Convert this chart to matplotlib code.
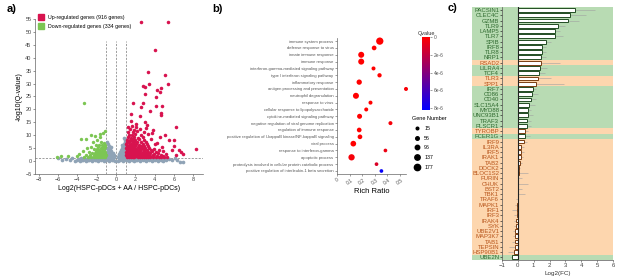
import matplotlib
matplotlib.use('Agg')
import matplotlib.pyplot as plt
from matplotlib.colors import LinearSegmentedColormap, Normalize
from matplotlib.lines import Line2D

plt.rcParams['font.family'] = ['Liberation Sans', 'DejaVu Sans']

# ---------------- a) volcano plot (points read off the picture)
up_pts = [
    (1.1, 1.5), (1.3, 1.7), (1.5, 1.4), (1.7, 1.6), (1.9, 1.5), (2.1, 1.8), (2.3, 1.4), (2.5, 1.6), (2.7, 1.5),
    (2.9, 1.7), (3.1, 1.4), (3.3, 1.6), (3.5, 1.5), (3.8, 1.7), (4.1, 1.4), (4.4, 1.6), (4.7, 1.5), (5.0, 1.7), (5.3, 1.5),
    (1.05, 2.2), (1.25, 2.0), (1.45, 2.3), (1.65, 2.1), (1.85, 2.4), (2.05, 2.0), (2.25, 2.2), (2.45, 2.3), (2.65, 2.1),
    (2.85, 2.3), (3.05, 2.0), (3.3, 2.3), (3.55, 2.1), (3.85, 2.4), (4.2, 2.1), (4.6, 2.3), (4.9, 2.0),
    (1.1, 2.9), (1.3, 2.7), (1.5, 3.0), (1.7, 2.8), (1.9, 3.1), (2.1, 2.8), (2.3, 2.9), (2.5, 3.1), (2.7, 2.7),
    (2.95, 3.0), (3.2, 2.8), (3.5, 3.1), (3.9, 2.8), (4.3, 3.0),
    (1.05, 3.6), (1.25, 3.4), (1.45, 3.7), (1.65, 3.5), (1.85, 3.8), (2.05, 3.4), (2.25, 3.6), (2.5, 3.8), (2.75, 3.5),
    (3.0, 3.7), (3.3, 3.4), (3.7, 3.8), (4.1, 3.5),
    (1.1, 4.3), (1.3, 4.1), (1.5, 4.4), (1.7, 4.2), (1.9, 4.5), (2.1, 4.1), (2.35, 4.3), (2.6, 4.5), (2.9, 4.2),
    (3.2, 4.4), (3.6, 4.1), (4.4, 4.3),
    (1.05, 5.0), (1.25, 4.8), (1.45, 5.2), (1.65, 4.9), (1.85, 5.1), (2.1, 4.8), (2.35, 5.0), (2.65, 5.2), (3.0, 4.9),
    (3.4, 5.1), (3.9, 4.8),
    (1.1, 5.8), (1.3, 5.6), (1.5, 5.9), (1.75, 5.7), (2.0, 6.0), (2.25, 5.6), (2.55, 5.8), (2.9, 6.0), (3.3, 5.7),
    (1.05, 6.6), (1.3, 6.4), (1.55, 6.8), (1.8, 6.5), (2.1, 6.7), (2.4, 6.4), (2.8, 6.6), (3.2, 6.8), (4.0, 6.5),
    (1.1, 7.4), (1.35, 7.2), (1.6, 7.6), (1.9, 7.3), (2.2, 7.5), (2.6, 7.2), (3.1, 7.5),
    (1.15, 8.3), (1.4, 8.1), (1.7, 8.5), (2.0, 8.2), (2.4, 8.4), (2.9, 8.1), (3.6, 8.4),
    (1.2, 9.2), (1.5, 9.0), (1.85, 9.4), (2.3, 9.1), (2.8, 9.3),
    (1.3, 10.2), (1.6, 10.0), (2.0, 10.4), (2.6, 10.1), (3.3, 10.3),
    (1.25, 11.3), (1.7, 11.1), (2.2, 11.5), (2.9, 11.2),
    (1.4, 12.4), (1.9, 12.2), (2.5, 12.6), (1.2, 13.2), (1.6, 13.4), (2.1, 13.0),
    # scattered outliers
    (2.6, 53.7), (5.4, 54.0), (4.0, 43.0), (3.35, 34.5), (5.07, 33.5), (2.77, 29.1), (3.0, 28.6), (3.4, 29.9),
    (5.4, 29.8), (4.2, 27.6), (4.6, 28.1), (4.5, 26.6), (3.0, 26.0), (4.1, 24.8), (1.8, 22.4), (2.8, 22.6),
    (2.6, 20.8), (4.8, 21.4), (4.1, 21.4), (4.7, 18.6), (4.6, 17.8), (3.5, 19.5), (1.5, 18.2), (2.5, 17.3),
    (1.56, 15.5), (2.1, 14.5), (3.0, 15.0), (3.15, 13.8), (3.05, 12.9), (6.2, 13.0), (3.8, 12.1), (5.07, 10.2),
    (5.45, 8.3), (6.0, 8.3), (8.3, 4.8), (5.8, 4.2), (6.7, 3.4), (6.9, 2.9), (6.2, 2.5), (6.0, 5.7), (6.5, 4.2),
    (4.5, 9.5), (4.2, 7.0), (4.8, 5.5), (3.7, 11.0), (4.9, 3.8), (5.2, 2.6),
]
down_pts = [
    (-2.3, 1.6), (-2.1, 1.5), (-1.9, 1.7), (-1.7, 1.5), (-1.5, 1.6), (-1.3, 1.5), (-1.1, 1.7), (-2.6, 1.5), (-2.9, 1.7), (-3.3, 1.5),
    (-2.25, 2.3), (-2.05, 2.1), (-1.85, 2.4), (-1.65, 2.2), (-1.45, 2.3), (-1.25, 2.1), (-1.05, 2.4), (-2.7, 2.2), (-3.1, 2.4),
    (-2.2, 3.0), (-2.0, 2.8), (-1.8, 3.1), (-1.6, 2.9), (-1.4, 3.0), (-1.2, 2.8), (-2.5, 3.1),
    (-2.1, 3.8), (-1.9, 3.6), (-1.7, 3.9), (-1.5, 3.7), (-1.3, 3.8), (-1.1, 3.6), (-2.8, 3.7), (-3.4, 3.8),
    (-2.0, 4.6), (-1.75, 4.4), (-1.5, 4.7), (-1.25, 4.5), (-2.3, 4.6),
    (-1.9, 5.4), (-1.6, 5.2), (-1.35, 5.5), (-1.1, 5.3), (-2.6, 5.4),
    (-1.8, 6.3), (-1.5, 6.1), (-1.2, 6.4), (-2.1, 6.2),
    (-1.6, 7.2), (-1.25, 7.0), (-2.4, 7.3),
    (-3.36, 22.4), (-3.1, 8.5), (-2.6, 10.2), (-1.7, 9.2), (-1.64, 10.5), (-1.2, 11.8), (-1.36, 10.9), (-2.0, 8.3),
    (-3.0, 5.1), (-3.8, 2.9), (-4.1, 2.1), (-5.0, 2.1), (-5.7, 1.8), (-6.1, 1.5), (-3.6, 8.6), (-2.2, 9.6),
]
ns_pts = [
    (-4.3, 0.2), (-4.0, 0.4), (-3.7, 0.2), (-3.4, 0.4), (-3.1, 0.2), (-2.8, 0.4), (-2.5, 0.2), (-2.2, 0.4), (-1.9, 0.2),
    (-1.6, 0.4), (-1.3, 0.2), (-1.0, 0.4), (-0.7, 0.2), (-0.4, 0.4), (-0.15, 0.2), (0.15, 0.2), (0.4, 0.4), (0.7, 0.2),
    (1.0, 0.4), (1.3, 0.2), (1.6, 0.4), (1.9, 0.2), (2.2, 0.4), (2.5, 0.2), (2.8, 0.4), (3.1, 0.2), (3.4, 0.4),
    (3.7, 0.2), (4.0, 0.4), (4.3, 0.2), (4.6, 0.4), (4.9, 0.2), (5.2, 0.4),
    (-3.85, 0.7), (-3.55, 0.6), (-3.25, 0.8), (-2.95, 0.6), (-2.65, 0.7), (-2.35, 0.8), (-2.05, 0.6), (-1.75, 0.7),
    (-1.45, 0.8), (-1.15, 0.6), (-0.85, 0.7), (-0.55, 0.8), (-0.3, 0.6), (0.3, 0.6), (0.55, 0.8), (0.85, 0.7),
    (1.15, 0.6), (1.45, 0.8), (1.75, 0.7), (2.05, 0.6), (2.35, 0.8), (2.65, 0.7), (2.95, 0.6), (3.25, 0.8),
    (3.55, 0.7), (3.85, 0.6), (4.15, 0.8), (4.45, 0.7), (4.75, 0.6), (5.05, 0.8),
    (-3.6, 1.0), (-3.3, 1.1), (-3.0, 0.95), (-2.7, 1.1), (-2.4, 1.0), (-2.1, 1.1), (-1.8, 0.95), (-1.5, 1.1),
    (-1.2, 1.0), (-0.9, 1.1), (-0.6, 1.0), (-0.35, 1.1), (0.35, 1.1), (0.6, 1.0), (0.9, 1.1), (1.2, 1.0),
    (1.5, 1.1), (1.8, 0.95), (2.1, 1.1), (2.4, 1.0), (2.7, 1.1), (3.0, 0.95), (3.3, 1.1), (3.6, 1.0),
    (3.9, 1.1), (4.2, 1.0), (4.5, 1.1), (4.8, 1.0),
    (-0.95, 1.8), (-0.9, 2.6), (-0.85, 3.4), (-0.8, 4.2), (-0.9, 5.0), (-0.75, 5.8), (-0.7, 1.7), (-0.65, 2.5),
    (-0.6, 3.3), (-0.55, 4.0), (-0.6, 4.8), (-0.45, 1.9), (-0.4, 2.7), (-0.35, 3.3), (-0.3, 1.8), (-0.25, 2.3),
    (-0.2, 1.5), (-0.8, 6.6), (-0.95, 7.3), (-0.5, 5.4),
    (0.2, 1.6), (0.25, 2.2), (0.3, 2.9), (0.35, 1.8), (0.4, 3.6), (0.45, 2.5), (0.5, 4.3), (0.55, 3.2), (0.6, 5.0),
    (0.65, 1.9), (0.7, 5.8), (0.7, 3.9), (0.75, 2.6), (0.8, 6.6), (0.8, 4.6), (0.85, 3.3), (0.9, 7.4), (0.9, 5.4),
    (0.95, 2.1), (0.95, 8.2), (0.6, 6.2), (0.85, 9.0),
    (-6.0, 1.0), (-5.6, 0.6), (-5.2, 0.9), (-4.8, 0.5), (-4.6, 1.1), (5.5, 0.8), (5.8, 0.3), (6.3, 0.5),
    (6.6, -0.3), (6.9, -0.3), (6.1, 1.0),
]
up_label = 'Up-regulated genes (916 genes)'
down_label = 'Down-regulated genes (334 genes)'
fc_cut = [-1, 0, 1]
q_cut = 1.3

# ---------------- b) GO enrichment bubble plot
terms = [
    'immune system process', 'defense response to virus', 'innate immune response', 'immune response',
    'interferon-gamma-mediated signaling pathway', 'type I interferon signaling pathway', 'inflammatory response',
    'antigen processing and presentation', 'neutrophil degranulation', 'response to virus',
    'cellular response to lipopolysaccharide', 'cytokine-mediated signaling pathway',
    'negative regulation of viral genome replication', 'regulation of immune response',
    'positive regulation of I-kappaB kinase/NF-kappaB signaling', 'viral process', 'response to interferon-gamma',
    'apoptotic process', 'proteolysis involved in cellular protein catabolic process',
    'positive regulation of interleukin-1 beta secretion',
]
rich_ratio = [0.341, 0.296, 0.193, 0.193, 0.291, 0.339, 0.177, 0.55, 0.151, 0.267,
              0.233, 0.18, 0.426, 0.177, 0.183, 0.13, 0.386, 0.116, 0.315, 0.354]
gene_num = [220, 106, 164, 164, 75, 88, 133, 75, 164, 75, 75, 120, 75, 106, 106, 150, 62, 177, 62, 62]
qvalue = [0, 0, 0, 0, 0, 0, 0, 2e-7, 0, 0, 0, 0, 3e-7, 0, 0, 0, 6e-7, 3e-7, 1.2e-6, 8e-6]
legend_num = [15, 56, 96, 137, 177]
q_ticks = [0, 2e-6, 4e-6, 6e-6, 8e-6]
q_tick_labels = ['0', '2e-6', '4e-6', '6e-6', '8e-6']

# ---------------- c) log2 fold change of pDC genes
genes = ['PACSIN1', 'CLEC4C', 'GZMB', 'TLR9', 'LAMP5', 'TLR7', 'SPIB', 'IRF8', 'TLR8', 'NRP1', 'RSAD2', 'LILRA4',
         'TCF4', 'TLR3', 'SPP1', 'IRF7', 'CD86', 'CD40', 'SLC15A4', 'MYD88', 'UNC93B1', 'TRAF3', 'PLSCR1', 'TYROBP',
         'FCER1G', 'IRF9', 'IL3RA', 'IRF5', 'IRAK1', 'TAB2', 'DOCK2', 'BLOC1S2', 'FURIN', 'CHUK', 'BST2', 'TBK1',
         'TRAF6', 'MAPK1', 'IRF1', 'IRF3', 'IRAK4', 'SYK', 'UBE2V1', 'MAP3K7', 'TAB1', 'TEPSIN', 'HSP90B1', 'UBE2N']
log2fc = [3.62, 3.26, 3.14, 2.50, 2.33, 2.33, 1.76, 1.55, 1.55, 1.46, 1.44, 1.42, 1.33, 1.27, 1.14, 0.97, 0.89,
          0.80, 0.72, 0.66, 0.66, 0.59, 0.57, 0.42, 0.42, 0.38, 0.21, 0.17, 0.17, 0.15, 0.06, 0.05, 0.04, 0.04,
          0.03, 0.03, -0.02, -0.04, -0.08, -0.08, -0.10, -0.13, -0.15, -0.17, -0.19, -0.21, -0.25, -0.34]
fc_err = [1.25, 1.04, 0.72, 0.47, 0.32, 0.53, 0.36, 0.21, 0.25, 0.34, 1.21, 0.42, 0.36, 0.85, 1.78, 0.2, 0.38,
          0.36, 0.34, 0.2, 0.3, 0.25, 0.28, 0.2, 0.36, 0.2, 0.2, 0.2, 0.15, 0.12, 0.1, 0.6, 0.25, 0.6, 0.25, 0.45,
          0.1, 0.12, 0.3, 0.15, 0.12, 0.1, 0.15, 0.15, 0.15, 0.35, 0.4, 0.15]
# g = green (pDC marker group), o = orange
group = list('gggggggggg' 'oggoo' 'gggggggg' 'og' 'oooooooooooooooooooooo' 'g')

green_bg, orange_bg = '#b8dbb3', '#fdd6ae'
green_fg, orange_fg = '#2f6a2f', '#b8561c'
green_edge, orange_edge = '#234d23', '#7a3e12'

fig = plt.figure(figsize=(6.17, 2.8), dpi=100)
W, H = 617, 280


def px_axes(l, t, r, b):
    return fig.add_axes([l / W, 1 - b / H, (r - l) / W, (b - t) / H])


# ---- a
axa = px_axes(35, 19, 203, 174)
ns_x, ns_y = zip(*ns_pts)
dn_x, dn_y = zip(*down_pts)
up_x, up_y = zip(*up_pts)
axa.scatter(ns_x, ns_y, s=7, color='#8fa3b6', linewidths=0, zorder=2)
axa.scatter(dn_x, dn_y, s=6, color='#7cc653', linewidths=0, zorder=3)
axa.scatter(up_x, up_y, s=6.5, color='#d8134f', linewidths=0, zorder=3)
for v in fc_cut:
    axa.plot([v, v], [-5, 46.5], ls=(0, (3, 2)), color='#777777', lw=0.5, zorder=1)
axa.axhline(q_cut, ls=(0, (3, 2)), color='#777777', lw=0.5, zorder=1)
axa.set_xlim(-8.4, 9)
axa.set_ylim(-5, 55)
axa.set_xticks(range(-8, 9, 2))
axa.set_yticks(range(-5, 56, 5))
for s in ['top', 'right']:
    axa.spines[s].set_visible(False)
for s in ['left', 'bottom']:
    axa.spines[s].set_color('#666666')
    axa.spines[s].set_linewidth(0.5)
axa.tick_params(labelsize=4, colors='#444444', length=1.5, width=0.4, pad=1)
axa.set_xlabel('Log2(HSPC-pDCs + AA / HSPC-pDCs)', fontsize=5, labelpad=2)
axa.set_ylabel('-log10(Q-value)', fontsize=5, labelpad=2)
hands = [Line2D([], [], ls='none', marker='s', markersize=4, color='#d8134f'),
         Line2D([], [], ls='none', marker='s', markersize=4, color='#7cc653')]
axa.legend(hands, [up_label, down_label], loc='upper left', bbox_to_anchor=(-0.01, 1.04), frameon=False,
           fontsize=3.8, handletextpad=0.3, labelspacing=0.7, borderaxespad=0)
fig.text(7 / W, 1 - 4 / H, 'a)', fontsize=8, fontweight='bold', va='top')

# ---- b
axb = px_axes(337, 37.7, 406, 174)
cmap_q = LinearSegmentedColormap.from_list('rb', ['#ff0000', '#0000ff'])
norm_q = Normalize(0, 8.2e-6)


def dot_s(n):
    return ((2.3 + 0.0226 * n) * 0.72) ** 2


ypos_b = list(range(len(terms)))
sc = axb.scatter(rich_ratio, ypos_b, s=[dot_s(n) for n in gene_num], c=qvalue, cmap=cmap_q, norm=norm_q,
                 linewidths=0, clip_on=False, zorder=3)
axb.set_ylim(len(terms) - 0.56, -0.5)
axb.set_xlim(0, 0.55)
axb.set_yticks(ypos_b)
axb.set_yticklabels(terms, fontsize=3, color='#333333')
axb.set_xticks([0, 0.1, 0.2, 0.3, 0.4, 0.5])
axb.set_xticklabels(['0', '0.1', '0.2', '0.3', '0.4', '0.5'], rotation=35, fontsize=3.6, color='#555555')
for s in ['top', 'right']:
    axb.spines[s].set_visible(False)
for s in ['left', 'bottom']:
    axb.spines[s].set_color('#666666')
    axb.spines[s].set_linewidth(0.5)
axb.tick_params(length=1.5, width=0.4, pad=1, colors='#555555')
axb.set_xlabel('Rich Ratio', fontsize=5.5, labelpad=2)
fig.text(212 / W, 1 - 4 / H, 'b)', fontsize=8, fontweight='bold', va='top')

cax = px_axes(422, 37, 430, 110)
cb = fig.colorbar(sc, cax=cax, ticks=q_ticks)
cb.ax.invert_yaxis()
cb.ax.set_yticklabels(q_tick_labels)
cb.outline.set_visible(False)
cb.ax.tick_params(labelsize=3.5, length=1.5, width=0.4, colors='#555555', pad=1)
cax.set_title('Qvalue', fontsize=4, pad=1.5, color='#333333')

g_hands = [Line2D([], [], ls='none', marker='o', color='k', markersize=dot_s(n) ** 0.5) for n in legend_num]
fig.legend(g_hands, [str(n) for n in legend_num], title='Gene Number', loc='upper left',
           bbox_to_anchor=(412 / W, 1 - 116 / H), frameon=False, fontsize=3.8, title_fontsize=4,
           labelspacing=0.9, handletextpad=0.3, alignment='left', borderaxespad=0, borderpad=0)

# ---- c
axc = px_axes(502, 7.4, 613, 260)
ypos_c = list(range(len(genes)))
for i, g in enumerate(group):
    axc.axhspan(i - 0.5, i + 0.5, xmin=-0.27, xmax=1, color=green_bg if g == 'g' else orange_bg,
                lw=0, clip_on=False, zorder=0)
lo = [e if v < 0 else 0 for v, e in zip(log2fc, fc_err)]
hi = [e if v >= 0 else 0 for v, e in zip(log2fc, fc_err)]
axc.errorbar(log2fc, ypos_c, xerr=[lo, hi], fmt='none', ecolor='#a0a0a0', elinewidth=0.4, capsize=0, zorder=1)
axc.barh(ypos_c, log2fc, height=0.72, color='white',
         edgecolor=[green_edge if g == 'g' else orange_edge for g in group], linewidth=0.7, zorder=2)
axc.axvline(0, color='#222222', lw=0.8, zorder=3)
axc.set_ylim(len(genes) - 0.5, -0.5)
axc.set_xlim(-1, 6)
axc.set_xticks(range(-1, 7))
axc.set_yticks(ypos_c)
axc.set_yticklabels(genes, fontsize=4.3)
for lab, g in zip(axc.get_yticklabels(), group):
    lab.set_color(green_fg if g == 'g' else orange_fg)
axc.set_facecolor('none')
for s in ['top', 'right']:
    axc.spines[s].set_visible(False)
for s in ['left', 'bottom']:
    axc.spines[s].set_color('#555555')
    axc.spines[s].set_linewidth(0.5)
axc.tick_params(axis='x', labelsize=4.3, length=1.5, width=0.4, pad=1, colors='#444444')
axc.tick_params(axis='y', length=1.5, width=0.4, pad=0.5)
axc.set_xlabel('Log2(FC)', fontsize=4.5, labelpad=2, color='#333333')
fig.text(448 / W, 1 - 3 / H, 'c)', fontsize=8, fontweight='bold', va='top')

fig.savefig('out.png', dpi=100, facecolor='white')
